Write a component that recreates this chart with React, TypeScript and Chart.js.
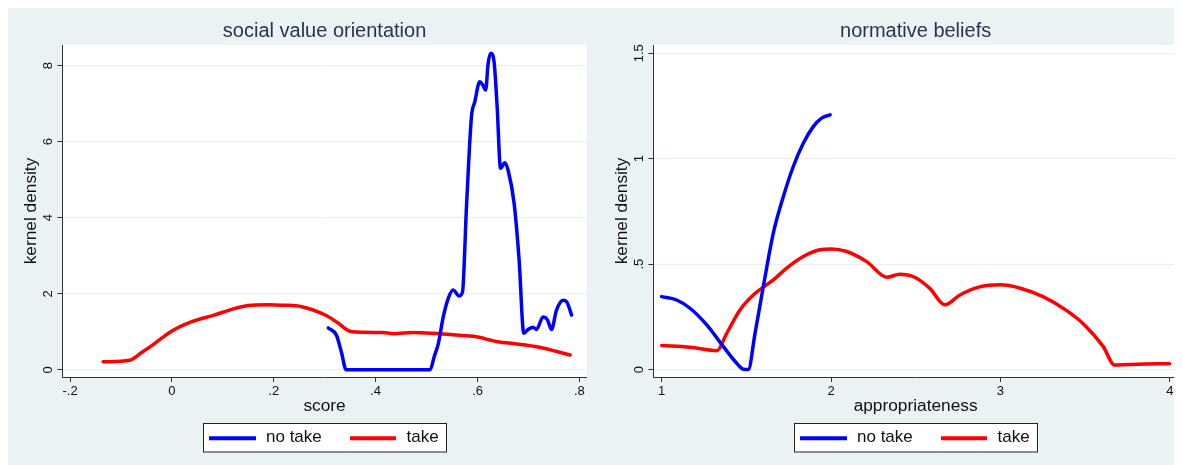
import React, { useEffect, useRef } from 'react';
import { Chart, registerables } from 'chart.js';

Chart.register(...registerables);

// ---------- data ----------
const seriesNames = ['no take', 'take'];
const seriesColors = ['#0000FF', '#FF0000'];

// social value orientation
const svoNoTakeX = [0.307, 0.323, 0.333, 0.342, 0.42, 0.507, 0.515, 0.523, 0.5327, 0.5425, 0.5521, 0.564, 0.5705, 0.5783, 0.5881, 0.5946, 0.6044, 0.61, 0.616, 0.6208, 0.626, 0.632, 0.6385, 0.6451, 0.6535, 0.66, 0.6718, 0.6816, 0.6908, 0.6993, 0.7091, 0.7156, 0.7287, 0.737, 0.7452, 0.755, 0.768, 0.775, 0.7846];
const svoNoTakeY = [1.1, 0.91, 0.45, 0.0, 0.0, 0.0, 0.35, 0.69, 1.39, 1.88, 2.1, 1.94, 2.05, 4.29, 6.66, 7.05, 7.58, 7.5, 7.36, 8.06, 8.33, 8.15, 6.92, 5.3, 5.45, 5.25, 4.38, 2.89, 0.96, 1.06, 1.12, 1.06, 1.39, 1.32, 1.06, 1.57, 1.83, 1.79, 1.44];
const svoTakeX = [-0.135, -0.083, -0.06, -0.038, 0.0, 0.038, 0.083, 0.113, 0.15, 0.188, 0.218, 0.255, 0.301, 0.323, 0.353, 0.413, 0.435, 0.473, 0.5, 0.564, 0.593, 0.639, 0.677, 0.714, 0.782];
const svoTakeY = [0.21, 0.25, 0.45, 0.65, 1.02, 1.26, 1.44, 1.57, 1.69, 1.71, 1.7, 1.66, 1.44, 1.26, 1.0, 0.98, 0.95, 0.98, 0.97, 0.91, 0.88, 0.74, 0.68, 0.61, 0.39];
const svoXTicks = [-0.2, 0, 0.2, 0.4, 0.6, 0.8];
const svoXTickLabels = ['-.2', '0', '.2', '.4', '.6', '.8'];
const svoYTicks = [0, 2, 4, 6, 8];
const svoYTickLabels = ['0', '2', '4', '6', '8'];

// normative beliefs
const nbNoTakeX = [1.0, 1.0885, 1.167, 1.266, 1.364, 1.443, 1.482, 1.511, 1.551, 1.6, 1.659, 1.718, 1.777, 1.836, 1.895, 1.944, 1.994];
const nbNoTakeY = [0.346, 0.33, 0.291, 0.212, 0.109, 0.03, 0.002, 0.0, 0.172, 0.394, 0.647, 0.82, 0.963, 1.073, 1.152, 1.192, 1.208];
const nbTakeX = [1.0, 1.167, 1.325, 1.384, 1.462, 1.541, 1.659, 1.738, 1.836, 1.934, 2.003, 2.092, 2.21, 2.33, 2.404, 2.493, 2.583, 2.672, 2.761, 2.872, 2.999, 3.117, 3.251, 3.385, 3.496, 3.607, 3.674, 3.808, 3.998];
const nbTakeY = [0.114, 0.106, 0.09, 0.172, 0.283, 0.354, 0.425, 0.481, 0.536, 0.568, 0.572, 0.56, 0.512, 0.438, 0.452, 0.438, 0.385, 0.307, 0.354, 0.391, 0.402, 0.386, 0.346, 0.283, 0.212, 0.109, 0.022, 0.026, 0.028];
const nbXTicks = [1, 2, 3, 4];
const nbXTickLabels = ['1', '2', '3', '4'];
const nbYTicks = [0, 0.5, 1, 1.5];
const nbYTickLabels = ['0', '.5', '1', '1.5'];

// ---------- styling ----------
const FONT = '"Liberation Sans", Arial, Helvetica, sans-serif';
const BG = '#EAF2F3';
const GRID = '#E6EFF1';
const AXIS = '#333333';
const TEXT = '#111111';
const TITLE = '#283450';

type PanelProps = {
  title: string;
  xTitle: string;
  width: number;
  rightPad: number;
  xMin: number; xMax: number; yMin: number; yMax: number;
  xTicks: number[]; xTickLabels: string[];
  yTicks: number[]; yTickLabels: string[];
  series: { x: number[]; y: number[] }[];
};

function Panel(p: PanelProps) {
  const ref = useRef<HTMLCanvasElement>(null);
  useEffect(() => {
    const canvas = ref.current!;
    const plotBg = {
      id: 'plotBg',
      beforeDraw(chart: any) {
        const { ctx, chartArea: a } = chart;
        ctx.save();
        ctx.fillStyle = '#FFFFFF';
        ctx.fillRect(a.left, a.top, a.right - a.left, a.bottom - a.top);
        ctx.restore();
      },
    };
    const extras = {
      id: 'extras',
      afterDraw(chart: any) {
        const { ctx, chartArea: a } = chart;
        const ys = chart.scales.y;
        ctx.save();
        // rotated y tick labels
        ctx.fillStyle = TEXT;
        ctx.font = `13px ${FONT}`;
        ctx.textAlign = 'center';
        ctx.textBaseline = 'middle';
        p.yTicks.forEach((v, i) => {
          const py = ys.getPixelForValue(v);
          ctx.save();
          ctx.translate(a.left - 14.4, py);
          ctx.rotate(-Math.PI / 2);
          ctx.fillText(p.yTickLabels[i], 0, 0);
          ctx.restore();
        });
        // legend
        const cx = (a.left + a.right) / 2;
        const bw = 243;
        const bh = 28.5;
        const bx = Math.round(cx - bw / 2) + 0.5;
        const by = chart.height - 42 + 0.5;
        ctx.fillStyle = '#FFFFFF';
        ctx.fillRect(bx, by, bw, bh);
        ctx.strokeStyle = '#222222';
        ctx.lineWidth = 1;
        ctx.strokeRect(bx, by, bw, bh);
        const ly = by + 14.7;
        const offsets = [[5.5, 52.5, 62.5], [146.5, 192.5, 203]];
        ctx.font = `17px ${FONT}`;
        ctx.textAlign = 'left';
        ctx.textBaseline = 'middle';
        seriesNames.forEach((name, i) => {
          const [l0, l1, t0] = offsets[i];
          ctx.strokeStyle = seriesColors[i];
          ctx.lineWidth = 4;
          ctx.beginPath();
          ctx.moveTo(bx + l0, ly);
          ctx.lineTo(bx + l1, ly);
          ctx.stroke();
          ctx.fillStyle = TEXT;
          ctx.fillText(name, bx + t0, ly - 1.2);
        });
        ctx.restore();
      },
    };
    const chart = new Chart(canvas, {
      type: 'line',
      data: {
        datasets: p.series.map((s, i) => ({
          label: seriesNames[i],
          data: s.x.map((x, j) => ({ x, y: s.y[j] })),
          borderColor: seriesColors[i],
          backgroundColor: seriesColors[i],
          borderWidth: 3.5,
          pointRadius: 0,
          fill: false,
          cubicInterpolationMode: 'monotone',
          borderJoinStyle: 'round',
          borderCapStyle: 'round',
        })),
      },
      options: {
        responsive: false,
        animation: false,
        events: [],
        layout: { padding: { top: 0, left: 0, right: p.rightPad, bottom: 44 } },
        plugins: {
          legend: { display: false },
          tooltip: { enabled: false },
          title: {
            display: true,
            text: p.title,
            fullSize: false,
            color: TITLE,
            font: { family: FONT, size: 20, weight: 'normal' },
            padding: { top: 11.5, bottom: 1.5 },
          },
        },
        scales: {
          x: {
            type: 'linear',
            min: p.xMin,
            max: p.xMax,
            afterFit: (s: any) => { s.height = 44; },
            afterBuildTicks: (s: any) => { s.ticks = p.xTicks.map((v) => ({ value: v })); },
            ticks: {
              autoSkip: false,
              maxRotation: 0,
              minRotation: 0,
              padding: 1.5,
              color: TEXT,
              font: { family: FONT, size: 13 },
              callback: (_v: any, i: number) => p.xTickLabels[i],
            },
            grid: { display: true, drawOnChartArea: false, drawTicks: true, tickLength: 5, tickColor: AXIS, tickWidth: 1 },
            border: { display: true, color: AXIS, width: 1 },
            title: {
              display: true,
              text: p.xTitle,
              color: TEXT,
              font: { family: FONT, size: 17.3 },
              padding: { top: 0, bottom: 4.6 },
            },
          },
          y: {
            type: 'linear',
            min: p.yMin,
            max: p.yMax,
            afterFit: (s: any) => { s.width = 54.4; },
            afterBuildTicks: (s: any) => { s.ticks = p.yTicks.map((v) => ({ value: v })); },
            ticks: { display: false },
            grid: { display: true, color: GRID, lineWidth: 1, drawTicks: true, tickLength: 5, tickColor: AXIS, tickWidth: 1 },
            border: { display: true, color: AXIS, width: 1 },
            title: {
              display: true,
              text: 'kernel density',
              color: TEXT,
              font: { family: FONT, size: 17.3 },
              padding: { top: 13, bottom: 0 },
            },
          },
        },
      },
      plugins: [plotBg, extras],
    } as any);
    return () => chart.destroy();
  }, []);
  return <canvas ref={ref} width={p.width} height={457} style={{ display: 'block' }} />;
}

export default function App() {
  return (
    <div style={{ width: 1172, height: 457, background: BG, display: 'flex' }}>
      <Panel
        title="social value orientation"
        xTitle="score"
        width={591}
        rightPad={12.3}
        xMin={-0.215}
        xMax={0.8143}
        yMin={-0.19}
        yMax={8.545}
        xTicks={svoXTicks}
        xTickLabels={svoXTickLabels}
        yTicks={svoYTicks}
        yTickLabels={svoYTickLabels}
        series={[{ x: svoNoTakeX, y: svoNoTakeY }, { x: svoTakeX, y: svoTakeY }]}
      />
      <Panel
        title="normative beliefs"
        xTitle="appropriateness"
        width={581}
        rightPad={2.2}
        xMin={0.951}
        xMax={4.047}
        yMin={-0.035}
        yMax={1.539}
        xTicks={nbXTicks}
        xTickLabels={nbXTickLabels}
        yTicks={nbYTicks}
        yTickLabels={nbYTickLabels}
        series={[{ x: nbNoTakeX, y: nbNoTakeY }, { x: nbTakeX, y: nbTakeY }]}
      />
    </div>
  );
}
